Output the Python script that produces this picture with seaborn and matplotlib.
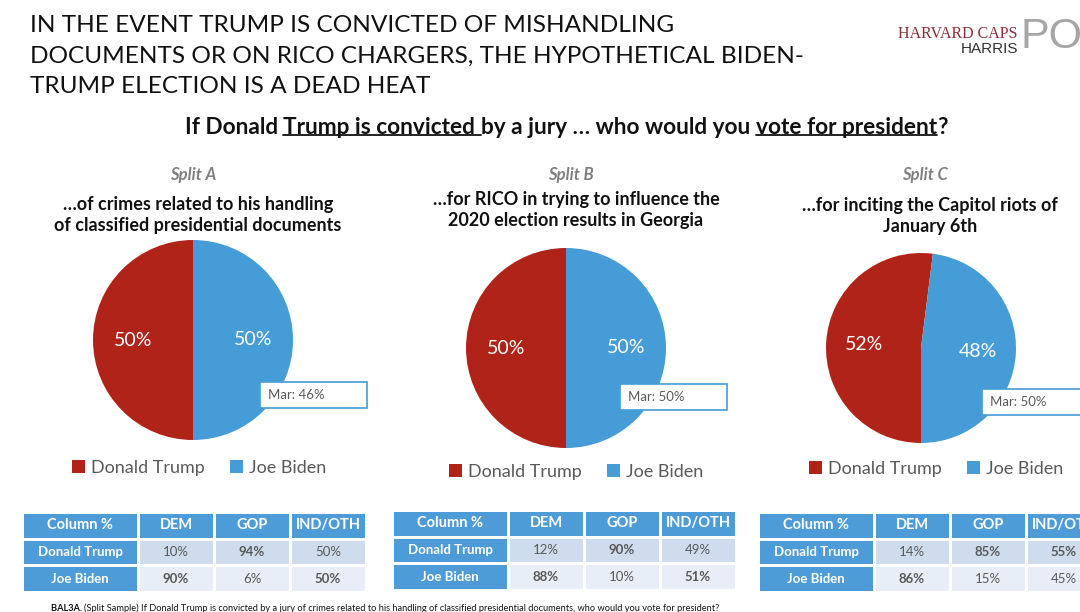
import numpy as np
import pandas as pd
import matplotlib
matplotlib.use("Agg")
import matplotlib.pyplot as plt
from matplotlib import font_manager
from matplotlib.colors import ListedColormap
from matplotlib.patches import Rectangle
from matplotlib.lines import Line2D
import seaborn as sns

# ---- data ----
candidates = ["Donald Trump", "Joe Biden"]
split_names = ["Split A", "Split B", "Split C"]
split_questions = [
    "…of crimes related to his handling\nof classified presidential documents",
    "…for RICO in trying to influence the\n2020 election results in Georgia",
    "…for inciting the Capitol riots of\nJanuary 6th",
]
trump_share = [50, 50, 52]
biden_share = [50, 50, 48]
march_share = [46, 50, 50]
party_columns = ["DEM", "GOP", "IND/OTH"]
trump_by_party = [[10, 94, 50], [12, 90, 49], [14, 85, 55]]
biden_by_party = [[90, 6, 50], [88, 10, 51], [86, 15, 45]]

title = ("IN THE EVENT TRUMP IS CONVICTED OF MISHANDLING\n"
         "DOCUMENTS OR ON RICO CHARGERS, THE HYPOTHETICAL BIDEN-\n"
         "TRUMP ELECTION IS A DEAD HEAT")
question_parts = [("If Donald ", False), ("Trump is convicted ", True),
                  ("by a jury … who would you ", False), ("vote for president", True),
                  ("?", False)]
footnote_bold = "BAL3A. "
footnote = ("(Split Sample) If Donald Trump is convicted by a jury of crimes related to his "
            "handling of classified presidential documents, who would you vote for president?")

# ---- style ----
RED = "#AF2319"
BLUE = "#459CD7"
HEAD = "#4D9CD8"
ROW1 = "#CFDCEE"
ROW2 = "#E8EEF7"
GRAY = "#595959"

sns.set_theme(style="white")


def pick(*names):
    for n in names:
        try:
            font_manager.findfont(n, fallback_to_default=False)
            return n
        except ValueError:
            continue
    return "DejaVu Sans"


BODY = pick("Lato", "Open Sans", "Liberation Sans")
plt.rcParams["font.family"] = [BODY, "DejaVu Sans"]

W, H = 1080, 612
fig = plt.figure(figsize=(W / 100, H / 100), dpi=100)
fig.patch.set_facecolor("white")


def fx(x):
    return x / W


def fy(y):
    return 1 - y / H


bg = fig.add_axes([0, 0, 1, 1])
bg.axis("off")
bg.set_xlim(0, 1)
bg.set_ylim(0, 1)

# title + logo
fig.text(fx(30), fy(15), title, ha="left", va="top", fontsize=17.6,
         color="#111111", linespacing=1.56)
fig.text(fx(1018), fy(38), "HARVARD CAPS", ha="right", va="baseline", fontsize=11.5,
         family="Liberation Serif", color="#8C2D3A")
fig.text(fx(1018), fy(53), "HARRIS", ha="right", va="baseline", fontsize=11,
         family="Liberation Sans", color="#333333")
fig.text(fx(1021), fy(37), "PO", ha="left", va="center", fontsize=31,
         family="Liberation Sans", color="#A6A6A6")

# question with underlined parts
parts = []
prev = None
for txt, _ in question_parts:
    if prev is None:
        t = bg.text(fx(183), fy(138), txt, ha="left", va="bottom", fontsize=16.3,
                    fontweight="bold", color="#111111")
    else:
        t = bg.annotate(txt, xy=(1, 0), xycoords=prev, ha="left", va="bottom",
                        fontsize=16.3, fontweight="bold", color="#111111")
    parts.append(t)
    prev = t
fig.canvas.draw()
r = fig.canvas.get_renderer()
x0 = parts[0].get_window_extent(r).x0
x1 = parts[-1].get_window_extent(r).x1
parts[0].set_position((fx(566) - (x1 - x0) / 2 / W, fy(138)))
fig.canvas.draw()
for t, (_, under) in zip(parts, question_parts):
    if under:
        bb = t.get_window_extent(r)
        yl = (bb.y0 + 3) / H
        fig.add_artist(Line2D([bb.x0 / W, bb.x1 / W], [yl, yl], color="#111111",
                              lw=1.3, transform=fig.transFigure))

# ---- layout for the three splits ----
pie_centers = [(193, 340), (566, 348), (921, 348)]
pie_radius = [100, 100, 95]
header_x = [193, 571, 925]
question_y = [215, 210, 216]
mar_boxes = [(260, 382), (620, 384), (982, 389)]
legend_pos = [(199, 468), (576, 472), (936, 469)]
table_pos = [(22, 512), (392, 510), (758, 512)]

for i in range(3):
    cx, cy = pie_centers[i]
    rad = pie_radius[i]

    fig.text(fx(header_x[i]), fy(175), split_names[i], ha="center", va="center",
             fontsize=12, fontstyle="italic", fontweight="bold", color="#7F7F7F")
    fig.text(fx(header_x[i] + 5), fy(question_y[i]), split_questions[i], ha="center",
             va="center", fontsize=13, fontweight="bold", color="#111111",
             linespacing=1.3)

    ax = fig.add_axes([fx(cx - rad), fy(cy + rad), 2 * rad / W, 2 * rad / H])
    wedges, _, autotexts = ax.pie(
        [trump_share[i], biden_share[i]], colors=[RED, BLUE], startangle=270,
        counterclock=False, autopct=lambda p: f"{p:.0f}%", pctdistance=0.6,
        textprops=dict(color="white", fontsize=14), wedgeprops=dict(linewidth=0))
    ax.set_xlim(-1, 1)
    ax.set_ylim(-1, 1)

    bx, by = mar_boxes[i]
    fig.add_artist(Rectangle((fx(bx), fy(by + 26)), 107 / W, 26 / H, facecolor="white",
                             edgecolor=BLUE, lw=1.2, transform=fig.transFigure))
    fig.text(fx(bx + 8), fy(by + 13), f"Mar: {march_share[i]}%", ha="left",
             va="center", fontsize=9.5, color=GRAY)

    lx, ly = legend_pos[i]
    fig.legend(wedges, candidates, loc="center", bbox_to_anchor=(fx(lx), fy(ly)),
               ncol=2, frameon=False, fontsize=13, labelcolor=GRAY, handlelength=0.75,
               handleheight=0.75, handletextpad=0.3, columnspacing=1.4)

    # table: label column + value cells as heatmaps
    tx, ty = table_pos[i]
    lax = fig.add_axes([fx(tx), fy(ty + 80), 116 / W, 80 / H])
    sns.heatmap(np.zeros((3, 1)), cmap=ListedColormap([HEAD]), cbar=False,
                linewidths=2, linecolor="white", xticklabels=False,
                yticklabels=False, ax=lax)
    for row, lab in enumerate(["Column %"] + candidates):
        lax.text(0.5, row + 0.5, lab, ha="center", va="center", color="white",
                 fontweight="bold", fontsize=10.5 if row == 0 else 9.5)

    table = pd.DataFrame([trump_by_party[i], biden_by_party[i]], index=candidates,
                         columns=party_columns)
    codes = np.array([[0, 0, 0], [1, 1, 1], [2, 2, 2]])
    vax = fig.add_axes([fx(tx + 116), fy(ty + 80), 228 / W, 80 / H])
    sns.heatmap(codes, cmap=ListedColormap([HEAD, ROW1, ROW2]), vmin=0, vmax=2,
                cbar=False, linewidths=2, linecolor="white", xticklabels=False,
                yticklabels=False, ax=vax)
    for j, col in enumerate(party_columns):
        vax.text(j + 0.5, 0.5, col, ha="center", va="center", color="white",
                 fontweight="bold", fontsize=10.5)
        vals = table[col].values
        win = len(vals) - 1 - int(np.argmax(vals[::-1]))
        for k, v in enumerate(vals):
            vax.text(j + 0.5, k + 1.5, f"{v}%", ha="center", va="center", color=GRAY,
                     fontsize=9.5, fontweight="bold" if k == win else "normal")

# footnote (cut off at the slide edge)
fn = bg.text(fx(51), fy(604), footnote_bold, ha="left", va="top", fontsize=6.7,
             fontweight="bold", color="#111111")
bg.annotate(footnote, xy=(1, 0), xycoords=fn, ha="left", va="bottom", fontsize=6.7,
            color="#111111")

fig.savefig("out.png", dpi=100)
